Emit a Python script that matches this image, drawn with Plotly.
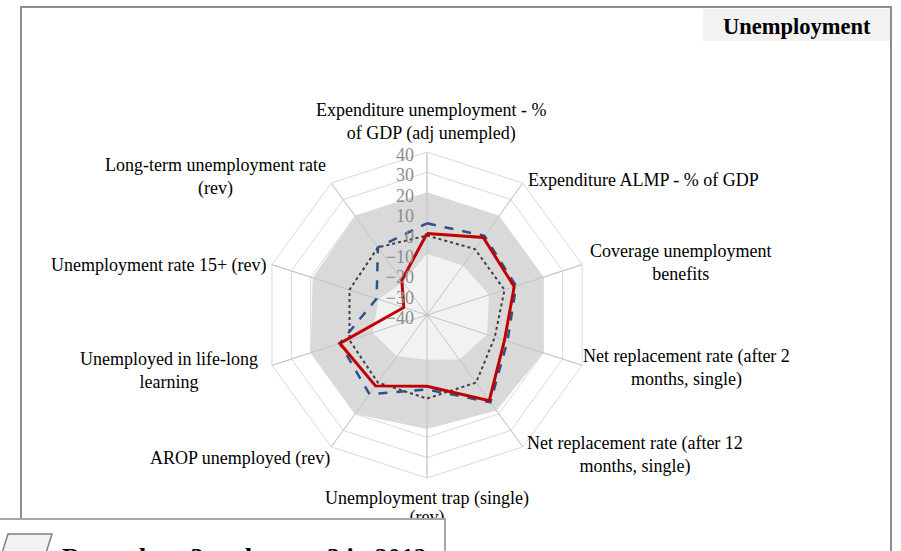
import plotly.graph_objects as go

W, H = 901, 551
OFF = 0  # page body margin removed through post_script

categories = [
    "Expenditure unemployment - %<br>of GDP (adj unempled)",
    "Expenditure ALMP - % of GDP",
    "Coverage unemployment<br>benefits",
    "Net replacement rate (after 2<br>months, single)",
    "Net replacement rate (after 12<br>months, single)",
    "Unemployment trap (single)",
    "AROP unemployed (rev)",
    "Unemployed in life-long<br>learning",
    "Unemployment rate 15+ (rev)",
    "Long-term unemployment rate<br>(rev)",
]
trap_second_line = "(rev)"
band_high = [20, 20, 20, 20, 18, 16, 20, 20, 19, 20]
band_low = [-10, -10, -8, -9, -13, -18, -15, -12, -15, -20]
series_dotted = [-1, 0, 0, -5, 1, 1, 1, 0, 0, 1]
series_dashed = [5, 8, 6, 1.5, 13, -3.5, 8, 5, -14, 1]
series_solid = [0, 7, 5, 0, 12, -5, 3, 5, -28, -19]
radial_ticks = [-40, -30, -20, -10, 0, 10, 20, 30, 40]
title_text = "Unemployment"
legend_text = "Range best 3 and worst 3 in 2012"

# label placement (pixel centres in the screenshot) for category annotations
label_pos = [(431, 122), (643, 180), (680, 263), (686, 368), (635, 455),
             (427, 498), (240, 458), (169, 370), (159, 265), (215, 177)]


def px(x):
    return (x - OFF) / W


def py(y):
    return 1 - (y - OFF) / H


def closed(v):
    return list(v) + [v[0]]


theta = closed(categories)
SERIF = "Liberation Serif, Times New Roman, serif"

fig = go.Figure()
fig.add_trace(go.Scatterpolar(r=closed(band_high), theta=theta, mode="lines",
                              fill="toself", fillcolor="#d9d9d9",
                              line=dict(width=0, color="#d9d9d9"), hoverinfo="skip"))
fig.add_trace(go.Scatterpolar(r=closed(band_low), theta=theta, mode="lines",
                              fill="toself", fillcolor="#f2f2f2",
                              line=dict(width=0, color="#f2f2f2"), hoverinfo="skip"))
# spokes drawn above the bands
for c in categories:
    fig.add_trace(go.Scatterpolar(r=[radial_ticks[0], radial_ticks[-1]], theta=[c, c],
                                  mode="lines", line=dict(color="#c4c4c4", width=1),
                                  hoverinfo="skip"))
fig.add_trace(go.Scatterpolar(r=closed(series_dotted), theta=theta, mode="lines",
                              line=dict(color="#404040", width=2, dash="dot")))
fig.add_trace(go.Scatterpolar(r=closed(series_dashed), theta=theta, mode="lines",
                              line=dict(color="#2b5389", width=2.5, dash="dash")))
fig.add_trace(go.Scatterpolar(r=closed(series_solid), theta=theta, mode="lines",
                              line=dict(color="#c00000", width=3)))

# second line of the bottom label, as a text trace so the legend box can cover it
fig.add_trace(go.Scatter(x=[px(427)], y=[py(518)], mode="text", text=[trap_second_line],
                         textfont=dict(family=SERIF, size=18, color="black"),
                         xaxis="x", yaxis="y", hoverinfo="skip"))

cx, cy, R = 427, 315, 163
fig.update_layout(
    width=W, height=H, margin=dict(l=0, r=0, t=0, b=0),
    paper_bgcolor="white", plot_bgcolor="rgba(0,0,0,0)", showlegend=False,
    xaxis=dict(range=[0, 1], domain=[0, 1], visible=False, fixedrange=True),
    yaxis=dict(range=[0, 1], domain=[0, 1], visible=False, fixedrange=True),
    polar=dict(
        domain=dict(x=[px(cx - R), px(cx + R)], y=[py(cy + R), py(cy - R)]),
        bgcolor="white",
        gridshape="linear",
        radialaxis=dict(range=[-40, 40], tickvals=radial_ticks, angle=90,
                        side="counterclockwise", showline=False, ticks="",
                        gridcolor="#d9d9d9", gridwidth=1,
                        tickfont=dict(family=SERIF, size=18, color="#8c8c8c")),
        angularaxis=dict(direction="clockwise", rotation=90, showticklabels=False,
                         ticks="", linecolor="#d9d9d9", gridcolor="#d9d9d9"),
    ),
)

ann = []
for (x, y), c in zip(label_pos, categories):
    ann.append(dict(x=px(x), y=py(y), xref="paper", yref="paper", text=c,
                    showarrow=False, xanchor="center", yanchor="middle",
                    font=dict(family=SERIF, size=18, color="black")))
ann.append(dict(x=px(797), y=py(26), xref="paper", yref="paper",
                text="<b>%s</b>" % title_text, showarrow=False,
                xanchor="center", yanchor="middle",
                font=dict(family=SERIF, size=22.5, color="black")))
ann.append(dict(x=px(60), y=py(541), xref="paper", yref="paper",
                text="<b>%s</b>" % legend_text, showarrow=False,
                xanchor="left", yanchor="top",
                font=dict(family=SERIF, size=26, color="black")))

shapes = [
    dict(type="rect", xref="paper", yref="paper", x0=px(21), x1=px(891),
         y0=py(620), y1=py(7), line=dict(color="#8c8c8c", width=2), layer="above"),
    dict(type="rect", xref="paper", yref="paper", x0=px(703), x1=px(890),
         y0=py(41), y1=py(9), fillcolor="#f2f2f2", line=dict(width=0), layer="below"),
    dict(type="rect", xref="paper", yref="paper", x0=px(-5), x1=px(445),
         y0=py(620), y1=py(519), fillcolor="white",
         line=dict(color="#a6a6a6", width=2), layer="above"),
    dict(type="path", xref="paper", yref="paper",
         path="M %f,%f L %f,%f L %f,%f L %f,%f Z" % (px(8), py(534), px(52), py(534),
                                                 px(45), py(556), px(1), py(556)),
         fillcolor="#f2f2f2", line=dict(color="#808080", width=1.5), layer="above"),
]
fig.update_layout(annotations=ann, shapes=shapes)
fig.write_html("out.html", config={"displayModeBar": False},
               post_script="document.body.style.margin='0';document.body.style.overflow='hidden';")
